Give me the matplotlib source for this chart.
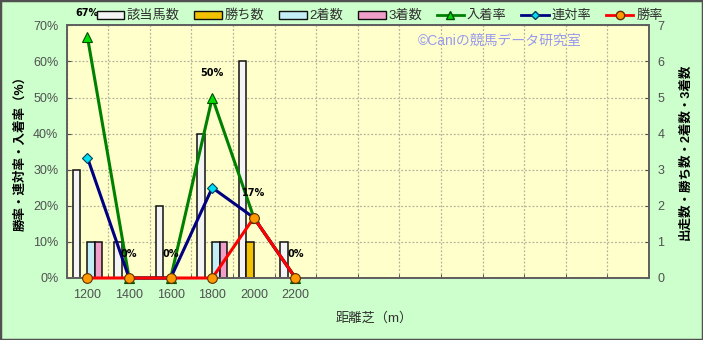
import matplotlib
matplotlib.use("Agg")
import matplotlib.pyplot as plt
import numpy as np
from matplotlib.patches import Rectangle, Patch
from matplotlib.lines import Line2D

plt.rcParams['font.family'] = ['Liberation Sans', 'Noto Sans CJK JP', 'DejaVu Sans']

# ---- data ----
categories = ['1200', '1400', '1600', '1800', '2000', '2200']
runners = [3, 1, 2, 4, 6, 1]        # 該当馬数
wins = [0, 0, 0, 0, 1, 0]           # 勝ち数
seconds = [1, 0, 0, 1, 0, 0]        # 2着数
thirds = [1, 0, 0, 1, 0, 0]         # 3着数
place_rate = [66.7, 0, 0, 50.0, 16.7, 0]    # 入着率
quinella_rate = [33.3, 0, 0, 25.0, 16.7, 0] # 連対率
win_rate = [0, 0, 0, 0, 16.7, 0]            # 勝率
place_labels = ['67%', '0%', '0%', '50%', '17%', '0%']
n_slots = 14

W, H = 703, 340
fig = plt.figure(figsize=(W / 100, H / 100), dpi=100)
fig.patch.set_facecolor('#CCFFCC')
fig.patches.append(Rectangle((0, 0), 1, 1, transform=fig.transFigure, fill=False,
                             edgecolor='#505050', lw=2.5, zorder=10))

left, right, top, bottom = 66.7, 649, 25.3, 278
rect = [left / W, 1 - bottom / H, (right - left) / W, (bottom - top) / H]
ax2 = fig.add_axes(rect)   # bars (right axis) - bottom layer
ax = fig.add_axes(rect, sharex=ax2)  # lines (left axis) on top
ax.patch.set_visible(False)
ax2.set_facecolor('#FFFFCC')

x = np.arange(len(categories))
ax2.set_xlim(-0.5, n_slots - 0.5)
ax2.set_ylim(0, 7)
ax.set_ylim(0, 70)

# grid on bars axes
ax2.set_yticks(range(0, 8))
ax2.set_xticks(np.arange(-0.5, n_slots, 1), minor=True)
ax2.grid(True, which='major', axis='y', color='#B4B49C', linestyle=(0, (1.5, 1.5)), lw=0.9)
ax2.grid(True, which='minor', axis='x', color='#B4B49C', linestyle=(0, (1.5, 1.5)), lw=0.9)
ax2.set_axisbelow(True)

bw = 0.18
series = [(runners, '#F4F4F4'), (wins, '#F2C200'), (seconds, '#C4EEF6'), (thirds, '#F0A0C8')]
offsets = [-1.5, -0.5, 0.5, 1.5]
for (vals, col), off in zip(series, offsets):
    ax2.bar(x + off * bw, vals, width=bw, color=col, edgecolor='#101010', lw=1.1, zorder=2)

# lines
ax.plot(x, place_rate, color='#008000', lw=2.2, marker='^', ms=7, mfc='#00DD00',
        mec='#005000', mew=0.8, zorder=3, clip_on=False)
ax.plot(x, quinella_rate, color='#000080', lw=2.2, marker='D', ms=5, mfc='#00E0F0',
        mec='#004060', mew=0.8, zorder=4, clip_on=False)
ax.plot(x, win_rate, color='#FF0000', lw=2.2, marker='o', ms=7, mfc='#FF9900',
        mec='#603000', mew=0.8, zorder=5, clip_on=False)
for xi, yi, lab in zip(x, place_rate, place_labels):
    ax.annotate(lab, (xi, yi), xytext=(0, 14), textcoords='offset points', ha='center',
                va='bottom', fontsize=7, fontweight='bold', family='DejaVu Sans',
                annotation_clip=False, zorder=6)

# axes styling
ax.set_xticks(x)
ax.set_xticklabels(categories)
ax.set_yticks(range(0, 71, 10))
ax.set_yticklabels([f'{v}%' for v in range(0, 71, 10)])
ax.tick_params(axis='y', direction='in', length=3, labelsize=9, labelcolor='#505050', color='#505050', pad=6)
ax.tick_params(axis='x', which='major', length=0, labelsize=9, labelcolor='#505050', pad=8)
ax.tick_params(axis='x', which='minor', length=0)
ax2.tick_params(axis='x', which='both', length=0, labelbottom=False)
ax2.tick_params(axis='x', which='minor', direction='in', length=3, color='#404040')
ax2.yaxis.tick_right()
ax2.tick_params(axis='y', direction='in', length=3, labelsize=9, labelcolor='#505050', color='#505050', pad=6)
for a in (ax, ax2):
    for s in a.spines.values():
        s.set_color('#606060')
        s.set_linewidth(1.3)

fig.text(20 / W, 1 - 150 / H, '勝率・連対率・入着率（%）', rotation=90, ha='center', va='center',
         fontsize=9, fontweight='bold')
fig.text(686 / W, 1 - 152 / H, '出走数・勝ち数・2着数・3着数', rotation=90, ha='center', va='center',
         fontsize=9, fontweight='bold')
fig.text(374 / W, 1 - 318 / H, '距離芝（m）', ha='center', va='center', fontsize=9.5, color='#303030')
fig.text(500 / W, 1 - 41 / H, '©Caniの競馬データ研究室', ha='center', va='center', fontsize=10,
         color='#9999EE')

handles = [
    Patch(facecolor='#F4F4F4', edgecolor='#101010'),
    Patch(facecolor='#F2C200', edgecolor='#101010'),
    Patch(facecolor='#C4EEF6', edgecolor='#101010'),
    Patch(facecolor='#F0A0C8', edgecolor='#101010'),
    Line2D([], [], color='#008000', lw=2, marker='^', ms=6, mfc='#00DD00', mec='#005000'),
    Line2D([], [], color='#000080', lw=2, marker='D', ms=4, mfc='#00E0F0', mec='#004060'),
    Line2D([], [], color='#FF0000', lw=2, marker='o', ms=6, mfc='#FF9900', mec='#603000'),
]
labels = ['該当馬数', '勝ち数', '2着数', '3着数', '入着率', '連対率', '勝率']
fig.legend(handles, labels, loc='center left', bbox_to_anchor=(90 / W, 1 - 16 / H), ncol=7,
           frameon=False, fontsize=9.5, handlelength=2.1, handleheight=0.55, handletextpad=0.2,
           columnspacing=1.1, borderpad=0, labelcolor='#303030')

fig.savefig('out.png', dpi=100, facecolor=fig.get_facecolor())
